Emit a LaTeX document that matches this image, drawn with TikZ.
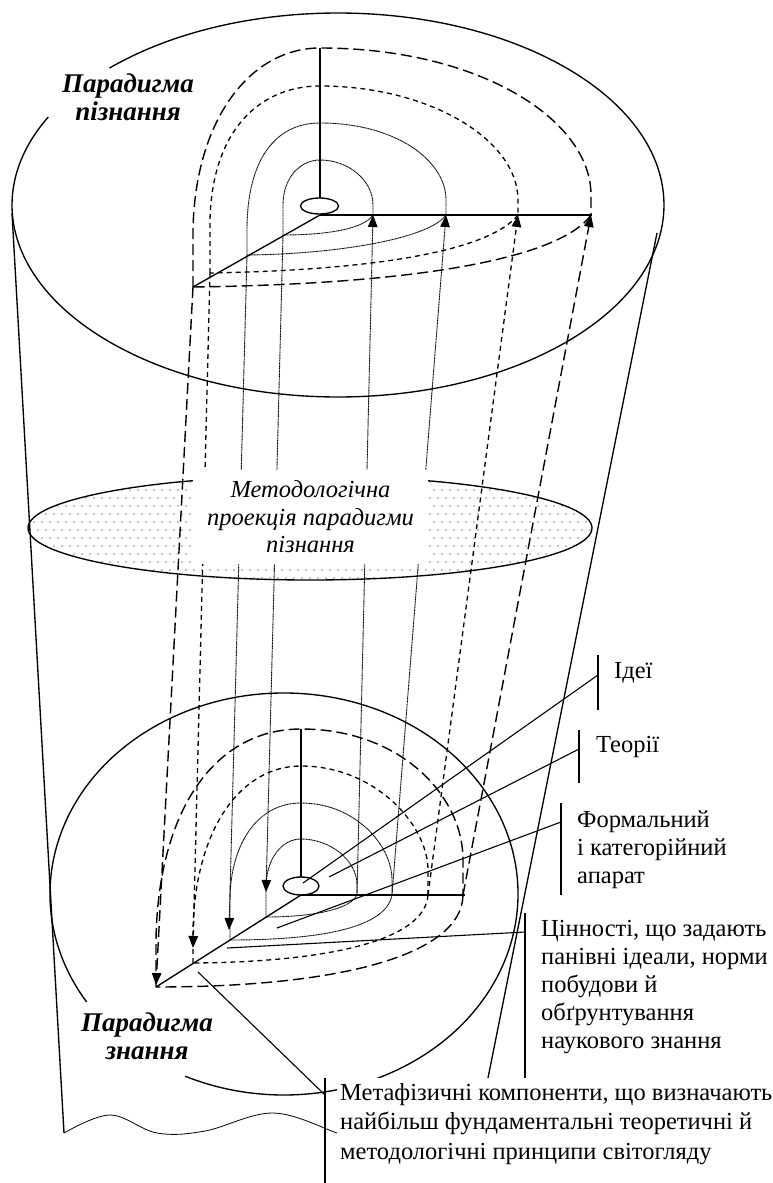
\documentclass[tikz,border=0pt]{standalone}
\usepackage{fontspec}
\setmainfont{Liberation Serif}
\usetikzlibrary{arrows.meta}
\begin{document}
\begin{tikzpicture}[x=1pt,y=-1pt,
  rim/.style={line width=1.35pt},
  axisline/.style={line width=1.35pt},
  finedot/.style={line width=0.9pt, dash pattern=on 1.1pt off 0.5pt},
  shortdash/.style={line width=1.3pt, dash pattern=on 5pt off 4pt},
  longdash/.style={line width=1.4pt, dash pattern=on 11pt off 5pt},
  headtip/.style={-{Triangle[length=12pt,width=9.5pt]}},
  ptr/.style={line width=1.1pt},
  lbl/.style={font=\fontsize{24.5}{28}\selectfont, align=left, inner sep=0pt, anchor=west},
  paralabel/.style={font=\fontsize{27}{28}\selectfont\bfseries\itshape, align=center, inner sep=0pt},
]
\useasboundingbox (0,0) rectangle (773,1183);

% ---------- key points ----------
% upper disc (paradigm of cognition)
\coordinate (cTop) at (338,205);
\coordinate (oT) at (320,215);
\coordinate (vT) at (320,48);
\coordinate (hT) at (592,215);
\coordinate (dT) at (193,287);
\coordinate (D1) at (283,235); \coordinate (V1) at (320,160); \coordinate (H1) at (373,215);
\coordinate (D2) at (247,255); \coordinate (V2) at (320,123); \coordinate (H2) at (446,215);
\coordinate (D3) at (210,273); \coordinate (V3) at (320,86);  \coordinate (H3) at (518,215);
\coordinate (D4) at (193,287); \coordinate (V4) at (320,48);  \coordinate (H4) at (591,215);
% lower disc (paradigm of knowledge)
\coordinate (cBot) at (284,894);
\coordinate (oB) at (301,895);
\coordinate (vB) at (301,729);
\coordinate (hB) at (465,895);
\coordinate (dB) at (156,987);
\coordinate (d1) at (266,917); \coordinate (v1) at (301,839); \coordinate (h1) at (357,895);
\coordinate (d2) at (230,940); \coordinate (v2) at (301,803); \coordinate (h2) at (392,895);
\coordinate (d3) at (193,963); \coordinate (v3) at (301,766); \coordinate (h3) at (428,895);
\coordinate (d4) at (156,987); \coordinate (v4) at (301,729); \coordinate (h4) at (463,895);
\coordinate (a1) at (266,892); \coordinate (a2) at (229,930);
\coordinate (a3) at (193,948); \coordinate (a4) at (156,985);

% ---------- cylinder ----------
\draw[rim] (cTop) ++(225.5:326 and 192) arc[start angle=225.5, end angle=567.3, x radius=326, y radius=192];
\coordinate (cylTL) at (12,213);
\coordinate (cylBL) at (64,1133);
\coordinate (cylTR) at (657,233);
\coordinate (cylBR) at (486,1088);
\draw[rim] (cylTL) -- (cylBL);
\draw[rim] (cylTR) -- (cylBR);
\draw[line width=0.8pt] plot[smooth, tension=0.6] coordinates
  {(64,1133) (110,1115) (157,1133) (205,1131) (273,1113) (337,1133) (360,1142)};

\node[paralabel] (ptop) at (128,97) {Парадигма\\пізнання};

% ---------- upper disc ----------
\draw[rim] (319.5,206) ellipse (19 and 8);
\draw[axisline] (320,198) -- (vT);
\draw[axisline] (oT) -- (hT);
\draw[axisline] (oT) -- (dT);

\draw[finedot] (D1) -- (283,205) .. controls (283,178) and (300,160) .. (V1)
  .. controls (348,160) and (373,180) .. (373,205) -- (H1);
\draw[finedot] (H1) .. controls (365,228) and (330,235) .. (D1);
\draw[finedot] (D2) -- (247,230) .. controls (247,160) and (275,123) .. (V2)
  .. controls (395,123) and (446,160) .. (446,200) -- (H2);
\draw[finedot] (H2) .. controls (430,238) and (340,254) .. (D2);
\draw[shortdash] (D3) -- (210,220) .. controls (212,130) and (260,86) .. (V3)
  .. controls (430,86) and (518,140) .. (518,200) -- (H3);
\draw[shortdash] (H3) .. controls (490,250) and (380,270) .. (D3);
\draw[longdash] (D4) -- (193,230) .. controls (195,120) and (250,48) .. (V4)
  .. controls (480,48) and (591,120) .. (591,195) -- (H4);
\draw[longdash] (H4) .. controls (560,258) and (420,284) .. (D4);

% ---------- lower disc ----------
\draw[rim] (cBot) ++(147.5:234 and 201) arc[start angle=147.5, end angle=475, x radius=234, y radius=201];
\node[paralabel] (pbot) at (147,1036) {Парадигма\\знання};

\draw[rim] (301,886) ellipse (18 and 9);
\draw[axisline] (301,877) -- (vB);
\draw[axisline] (oB) -- (hB);
\draw[axisline] (oB) -- (dB);

\draw[finedot] (d1) -- (266,885) .. controls (267,858) and (282,839) .. (v1)
  .. controls (330,839) and (357,860) .. (357,885) -- (h1);
\draw[finedot] (h1) .. controls (350,910) and (310,917) .. (d1);
\draw[finedot] (d2) -- (230,900) .. controls (230,848) and (255,803) .. (v2)
  .. controls (355,803) and (392,845) .. (392,880) -- (h2);
\draw[finedot] (h2) .. controls (386,928) and (320,940) .. (d2);
\draw[shortdash] (d3) -- (193,930) .. controls (195,830) and (240,766) .. (v3)
  .. controls (375,766) and (428,825) .. (428,870) -- (h3);
\draw[shortdash] (h3) .. controls (425,940) and (330,962) .. (d3);
\draw[longdash] (d4) -- (156,940) .. controls (158,810) and (215,729) .. (v4)
  .. controls (400,729) and (463,795) .. (463,860) -- (h4);
\draw[longdash] (h4) .. controls (462,955) and (340,987) .. (d4);

% ---------- methodological projection plane ----------
\coordinate (cMid) at (310,528);
\begin{scope}
  \clip (cMid) ellipse (282 and 52);
  \foreach \j in {0,...,14} {
    \foreach \i in {0,...,72} {
      \fill ({26+\i*8+mod(\j,2)*4},{474+\j*8}) circle (0.6);
    }
  }
\end{scope}
\draw[rim] (cMid) ellipse (282 and 52);

% ---------- projection lines ----------
\draw[finedot, headtip] (D1) -- (a1);
\draw[finedot, headtip] (D2) -- (a2);
\draw[shortdash, headtip] (D3) -- (a3);
\draw[longdash, headtip] (D4) -- (a4);
\draw[finedot, headtip] (h1) -- (H1);
\draw[finedot, headtip] (h2) -- (H2);
\draw[shortdash, headtip] (h3) -- (H3);
\draw[longdash, headtip] (h4) -- (H4);

\node[fill=white, minimum width=235pt, minimum height=94pt, inner sep=0pt, align=center,
      font=\fontsize{24.5}{27.5}\selectfont\itshape] (proj) at (310.5,517)
  {Методологічна\\проекція парадигми\\пізнання};

% ---------- labels of the knowledge structure ----------
\coordinate (pI0) at (303,883); \coordinate (pI1) at (598,675);
\coordinate (pT0) at (329,877); \coordinate (pT1) at (579,749);
\coordinate (pF0) at (277,928); \coordinate (pF1) at (561,822);
\coordinate (pC0) at (227,948); \coordinate (pC1) at (525,932);
\coordinate (pM0) at (198,972); \coordinate (pM1) at (325,1095);

\draw[ptr] (pI0) -- (pI1);  \draw[ptr] (598,655) -- (598,710);
\draw[ptr] (pT0) -- (pT1);  \draw[ptr] (579,730) -- (579,783);
\draw[ptr] (pF0) -- (pF1);  \draw[ptr] (561,803) -- (561,895);
\draw[ptr] (pC0) -- (pC1);  \draw[ptr] (525,913) -- (525,1085);
\draw[ptr] (pM0) -- (pM1);  \draw[ptr] (325,1078) -- (325,1183);

\node[lbl] (tIdei) at (614,673) {Ідеї};
\node[lbl] (tTeor) at (596,747) {Теорії};
\node[lbl] (tForm) at (577,850) {Формальний\\і категорійний\\апарат};
\node[lbl] (tCinn) at (541,987) {Цінності, що задають\\панівні ідеали, норми\\побудови й\\обґрунтування\\наукового знання};
\node[lbl, anchor=north west, fill=white, inner xsep=3pt, inner ysep=5pt,
      font=\fontsize{24.5}{29.5}\selectfont] (tMeta) at (337,1078)
  {Метафізичні компоненти, що визначають\\найбільш фундаментальні теоретичні й\\методологічні принципи світогляду};
\end{tikzpicture}
\end{document}
